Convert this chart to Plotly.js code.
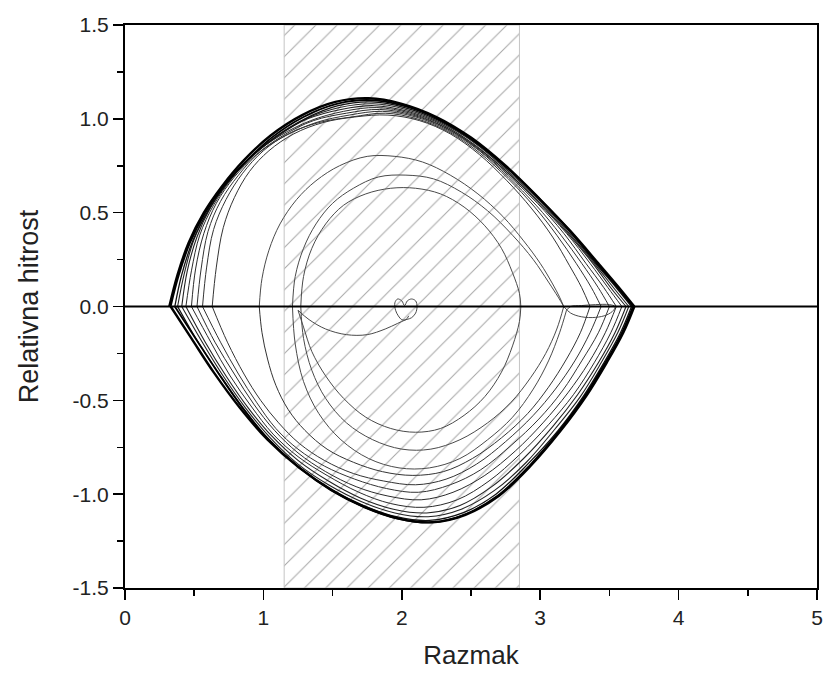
<!DOCTYPE html>
<html>
<head>
<meta charset="utf-8">
<script src="https://cdn.plot.ly/plotly-3.0.1.min.js"></script>
<style>html,body{margin:0;padding:0;background:#fff;}#chart{width:825px;height:674px;}</style>
</head>
<body>
<div id="chart"></div>
<script>
// ---- data ----
const xTitle = "Razmak";
const yTitle = "Relativna hitrost";
const xTickVals = [0, 1, 2, 3, 4, 5];
const xTickText = ["0", "1", "2", "3", "4", "5"];
const yTickVals = [-1.5, -1.0, -0.5, 0.0, 0.5, 1.0, 1.5];
const yTickText = ["-1.5", "-1.0", "-0.5", "0.0", "0.5", "1.0", "1.5"];

// hatched band
const bandX = [1.15, 2.85, 2.85, 1.15, 1.15];
const bandY = [-1.5, -1.5, 1.5, 1.5, -1.5];

// outer loops (upper arcs then lower arcs)
const L1tx = [0.32,0.38,0.46,0.57,0.70,0.86,1.05,1.28,1.52,1.76,2.00,2.25,2.50,2.75,3.00,3.22,3.42,3.57,3.68];
const L1ty = [0,0.17,0.34,0.50,0.64,0.78,0.91,1.02,1.09,1.11,1.08,1.01,0.90,0.75,0.57,0.40,0.23,0.10,0];
const L1bx = [3.68,3.60,3.48,3.33,3.15,2.93,2.70,2.46,2.22,1.98,1.74,1.50,1.26,1.03,0.83,0.64,0.48,0.33];
const L1by = [0,-0.14,-0.30,-0.48,-0.66,-0.85,-1.01,-1.11,-1.15,-1.13,-1.07,-0.98,-0.86,-0.71,-0.54,-0.35,-0.17,0];

const L2tx = [0.33,0.39,0.47,0.58,0.71,0.87,1.06,1.29,1.53,1.77,2.01,2.26,2.51,2.76,3.00,3.22,3.41,3.56,3.67];
const L2ty = [0,0.17,0.34,0.50,0.64,0.77,0.90,1.01,1.08,1.10,1.07,1.00,0.89,0.74,0.57,0.40,0.23,0.10,0];
const L2bx = [3.67,3.59,3.47,3.32,3.14,2.92,2.69,2.45,2.21,1.97,1.73,1.49,1.26,1.04,0.85,0.67,0.51,0.36];
const L2by = [0,-0.14,-0.30,-0.48,-0.66,-0.85,-1.01,-1.11,-1.15,-1.13,-1.07,-0.98,-0.86,-0.71,-0.54,-0.35,-0.17,0];

const L3tx = [0.36,0.41,0.49,0.60,0.73,0.89,1.08,1.30,1.54,1.78,2.02,2.27,2.52,2.77,3.00,3.21,3.40,3.55,3.66];
const L3ty = [0,0.17,0.35,0.51,0.65,0.78,0.90,1.00,1.07,1.09,1.06,0.99,0.88,0.73,0.57,0.40,0.23,0.10,0];
const L3bx = [3.66,3.58,3.46,3.31,3.13,2.91,2.68,2.44,2.20,1.96,1.72,1.48,1.25,1.04,0.86,0.68,0.52,0.38];
const L3by = [0,-0.14,-0.30,-0.48,-0.66,-0.84,-1.00,-1.10,-1.14,-1.12,-1.06,-0.97,-0.85,-0.71,-0.55,-0.36,-0.18,0];

const L4tx = [0.38,0.43,0.50,0.61,0.74,0.90,1.09,1.31,1.55,1.79,2.03,2.28,2.53,2.77,3.00,3.21,3.39,3.53,3.64];
const L4ty = [0,0.18,0.36,0.52,0.66,0.79,0.90,1.00,1.06,1.08,1.05,0.98,0.87,0.72,0.56,0.39,0.23,0.10,0];
const L4bx = [3.64,3.56,3.44,3.29,3.11,2.90,2.67,2.43,2.19,1.95,1.71,1.47,1.25,1.05,0.87,0.70,0.55,0.41];
const L4by = [0,-0.14,-0.30,-0.48,-0.65,-0.83,-0.98,-1.08,-1.12,-1.10,-1.04,-0.95,-0.84,-0.70,-0.54,-0.36,-0.18,0];

const L5tx = [0.41,0.45,0.52,0.62,0.75,0.91,1.10,1.32,1.56,1.80,2.04,2.29,2.53,2.77,3.00,3.20,3.38,3.51,3.62];
const L5ty = [0,0.19,0.37,0.53,0.67,0.80,0.91,1.00,1.05,1.07,1.04,0.97,0.86,0.71,0.55,0.39,0.23,0.10,0];
const L5bx = [3.62,3.54,3.42,3.27,3.09,2.88,2.65,2.42,2.18,1.94,1.70,1.47,1.25,1.06,0.89,0.73,0.58,0.44];
const L5by = [0,-0.14,-0.30,-0.47,-0.64,-0.81,-0.96,-1.06,-1.10,-1.08,-1.02,-0.93,-0.82,-0.69,-0.54,-0.37,-0.19,0];

const L6tx = [0.44,0.48,0.54,0.64,0.77,0.93,1.12,1.34,1.58,1.82,2.06,2.30,2.54,2.77,2.99,3.19,3.36,3.49,3.59];
const L6ty = [0,0.19,0.38,0.54,0.68,0.81,0.91,0.99,1.04,1.06,1.03,0.96,0.85,0.71,0.55,0.39,0.23,0.10,0];
const L6bx = [3.59,3.51,3.39,3.24,3.06,2.85,2.63,2.40,2.16,1.92,1.69,1.46,1.25,1.07,0.91,0.76,0.62,0.48];
const L6by = [0,-0.14,-0.30,-0.47,-0.63,-0.79,-0.93,-1.03,-1.07,-1.05,-0.99,-0.90,-0.80,-0.68,-0.53,-0.37,-0.19,0];

const L7tx = [0.48,0.51,0.57,0.66,0.79,0.95,1.14,1.36,1.60,1.84,2.08,2.32,2.55,2.77,2.98,3.17,3.33,3.46,3.55];
const L7ty = [0,0.20,0.39,0.55,0.69,0.81,0.91,0.99,1.03,1.05,1.02,0.95,0.84,0.70,0.55,0.39,0.23,0.10,0];
const L7bx = [3.55,3.47,3.35,3.20,3.02,2.82,2.60,2.37,2.14,1.90,1.67,1.45,1.25,1.08,0.93,0.79,0.65,0.52];
const L7by = [0,-0.14,-0.30,-0.46,-0.62,-0.77,-0.90,-0.99,-1.03,-1.01,-0.96,-0.88,-0.78,-0.66,-0.52,-0.36,-0.19,0];

const L8tx = [0.52,0.55,0.60,0.69,0.82,0.97,1.16,1.38,1.62,1.86,2.10,2.33,2.56,2.77,2.97,3.15,3.30,3.42,3.50];
const L8ty = [0,0.20,0.40,0.56,0.70,0.82,0.91,0.98,1.02,1.04,1.01,0.94,0.83,0.69,0.54,0.38,0.23,0.10,0];
const L8bx = [3.50,3.42,3.30,3.16,2.99,2.79,2.57,2.35,2.12,1.89,1.66,1.44,1.25,1.09,0.95,0.82,0.69,0.56];
const L8by = [0,-0.14,-0.29,-0.45,-0.60,-0.74,-0.87,-0.95,-0.99,-0.97,-0.92,-0.85,-0.76,-0.65,-0.51,-0.36,-0.19,0];

const L9tx = [0.56,0.59,0.64,0.73,0.85,1.00,1.18,1.40,1.64,1.88,2.11,2.34,2.56,2.77,2.96,3.12,3.26,3.37,3.44];
const L9ty = [0,0.21,0.41,0.57,0.71,0.83,0.92,0.98,1.01,1.03,1.00,0.93,0.82,0.68,0.53,0.38,0.23,0.10,0];
const L9bx = [3.44,3.36,3.25,3.11,2.95,2.75,2.54,2.32,2.10,1.87,1.65,1.44,1.26,1.11,0.98,0.86,0.74,0.63];
const L9by = [0,-0.14,-0.29,-0.44,-0.58,-0.72,-0.84,-0.92,-0.95,-0.93,-0.89,-0.82,-0.73,-0.62,-0.50,-0.36,-0.19,0];

const L10tx = [0.63,0.66,0.71,0.79,0.90,1.04,1.22,1.43,1.66,1.90,2.13,2.35,2.56,2.76,2.94,3.09,3.21,3.30,3.36];
const L10ty = [0,0.21,0.42,0.58,0.72,0.83,0.92,0.98,1.01,1.02,0.99,0.92,0.81,0.67,0.52,0.37,0.22,0.10,0];
const L10bx = [3.36,3.29,3.19,3.06,2.91,2.72,2.51,2.30,2.08,1.86,1.65,1.46,1.30,1.18,1.09,1.03,0.99,0.97];
const L10by = [0,-0.14,-0.28,-0.43,-0.57,-0.70,-0.81,-0.88,-0.90,-0.88,-0.83,-0.76,-0.66,-0.55,-0.42,-0.28,-0.14,0];

// inner loops
const P80tx = [0.97,0.99,1.04,1.12,1.24,1.38,1.55,1.75,1.95,2.15,2.35,2.55,2.73,2.88,3.00,3.09,3.14,3.17];
const P80ty = [0,0.15,0.30,0.44,0.57,0.67,0.75,0.80,0.80,0.77,0.70,0.60,0.48,0.35,0.23,0.12,0.05,0];
const dipX = [3.17,3.22,3.30,3.40,3.48,3.53,3.54,3.50,3.40,3.30,3.22,3.19];
const dipY = [0,-0.035,-0.055,-0.058,-0.045,-0.02,0.0,0.01,0.01,0.005,0.0,-0.02];
const P80bx = [3.19,3.14,3.06,2.95,2.80,2.62,2.42,2.20,1.98,1.76,1.56,1.40,1.29,1.23,1.21];
const P80by = [-0.02,-0.14,-0.29,-0.44,-0.59,-0.71,-0.81,-0.86,-0.86,-0.81,-0.71,-0.57,-0.40,-0.20,0];

const P70tx = [1.21,1.23,1.29,1.38,1.50,1.65,1.83,2.03,2.23,2.43,2.62,2.80,2.95,3.06,3.13,3.17];
const P70ty = [0,0.16,0.31,0.44,0.55,0.63,0.69,0.70,0.68,0.61,0.51,0.38,0.25,0.13,0.05,0];
const P70bx = [3.17,3.12,3.04,2.93,2.79,2.62,2.42,2.21,2.00,1.79,1.60,1.45,1.35,1.29,1.27];
const P70by = [0,-0.12,-0.25,-0.38,-0.51,-0.62,-0.71,-0.76,-0.76,-0.71,-0.62,-0.49,-0.34,-0.17,0];

const Ctx = [1.27,1.29,1.35,1.45,1.58,1.74,1.92,2.10,2.28,2.45,2.60,2.72,2.80,2.85,2.86];
const Cty = [0,0.16,0.31,0.44,0.54,0.60,0.63,0.63,0.60,0.53,0.43,0.31,0.18,0.07,0];
const Cbx = [2.86,2.85,2.80,2.72,2.60,2.45,2.28,2.10,1.92,1.74,1.58,1.45,1.35,1.29,1.25];
const Cby = [0,-0.08,-0.21,-0.35,-0.48,-0.58,-0.65,-0.67,-0.65,-0.59,-0.49,-0.37,-0.24,-0.11,-0.02];

const tailX = [1.25,1.33,1.45,1.60,1.75,1.88,1.97,2.03];
const tailY = [-0.02,-0.07,-0.12,-0.15,-0.15,-0.12,-0.09,-0.07];
const heartX = [2.03,2.07,2.10,2.11,2.10,2.07,2.04,2.02,2.00,1.97,1.95,1.955,1.975,2.00,2.03,2.05];
const heartY = [-0.07,-0.06,-0.035,0.0,0.03,0.04,0.03,0.005,0.03,0.04,0.02,-0.02,-0.05,-0.07,-0.07,-0.05];

// ---- traces ----
function arc(x, y, color, width) {
  return {x: x, y: y, type: 'scatter', mode: 'lines',
          line: {color: color, width: width, shape: 'spline', smoothing: 1},
          hoverinfo: 'skip', showlegend: false};
}

const traces = [];
traces.push({
  x: bandX, y: bandY, type: 'scatter', mode: 'lines', fill: 'toself',
  fillcolor: 'rgba(255,255,255,0)',
  fillpattern: {shape: '/', size: 15, solidity: 0.07, fgcolor: '#a8a8a8', bgcolor: 'rgba(255,255,255,0)'},
  line: {color: '#c4c4c4', width: 1}, hoverinfo: 'skip', showlegend: false
});

const inner = '#4a4a4a';
[[P80tx,P80ty],[dipX,dipY],[P80bx,P80by],[P70tx,P70ty],[P70bx,P70by],[Ctx,Cty],[Cbx,Cby],[tailX,tailY],[heartX,heartY]]
  .forEach(a => traces.push(arc(a[0], a[1], inner, 1)));

const bundle = [
  [L10tx,L10ty,L10bx,L10by,'#333',1],
  [L9tx,L9ty,L9bx,L9by,'#333',1],
  [L8tx,L8ty,L8bx,L8by,'#333',1],
  [L7tx,L7ty,L7bx,L7by,'#2a2a2a',1],
  [L6tx,L6ty,L6bx,L6by,'#2a2a2a',1],
  [L5tx,L5ty,L5bx,L5by,'#222',1.1],
  [L4tx,L4ty,L4bx,L4by,'#222',1.1],
  [L3tx,L3ty,L3bx,L3by,'#111',1.3],
  [L2tx,L2ty,L2bx,L2by,'#000',1.8],
  [L1tx,L1ty,L1bx,L1by,'#000',2.4]
];
bundle.forEach(b => {
  traces.push(arc(b[0], b[1], b[4], b[5]));
  traces.push(arc(b[2], b[3], b[4], b[5]));
});

const font = 'Arial, "Liberation Sans", sans-serif';
const layout = {
  width: 825, height: 674,
  margin: {l: 125, r: 8, t: 25, b: 86},
  paper_bgcolor: '#fff', plot_bgcolor: '#fff',
  showlegend: false,
  font: {family: font, color: '#222', size: 21},
  xaxis: {
    range: [0, 5], tickvals: xTickVals, ticktext: xTickText,
    ticks: 'outside', ticklen: 10, tickwidth: 1.5, tickcolor: '#000',
    showline: true, linecolor: '#000', linewidth: 2, mirror: true,
    showgrid: false, zeroline: false,
    minor: {dtick: 0.5, ticks: 'outside', ticklen: 6, tickwidth: 1.5, tickcolor: '#000', showgrid: false},
    tickfont: {family: font, size: 21, color: '#222'},
    title: {text: xTitle, font: {family: font, size: 26, color: '#222'}, standoff: 18}
  },
  yaxis: {
    range: [-1.5, 1.5], tickvals: yTickVals, ticktext: yTickText,
    ticks: 'outside', ticklen: 10, tickwidth: 1.5, tickcolor: '#000',
    showline: true, linecolor: '#000', linewidth: 2, mirror: true,
    showgrid: false, zeroline: false,
    minor: {dtick: 0.25, ticks: 'outside', ticklen: 6, tickwidth: 1.5, tickcolor: '#000', showgrid: false},
    tickfont: {family: font, size: 21, color: '#222'},
    title: {text: yTitle, font: {family: font, size: 27, color: '#222'}, standoff: 26}
  },
  shapes: [{type: 'line', xref: 'paper', yref: 'y', x0: 0, x1: 1, y0: 0, y1: 0,
            line: {color: '#000', width: 2}, layer: 'above'}]
};

Plotly.newPlot('chart', traces, layout, {displayModeBar: false, staticPlot: true});
</script>
</body>
</html>
